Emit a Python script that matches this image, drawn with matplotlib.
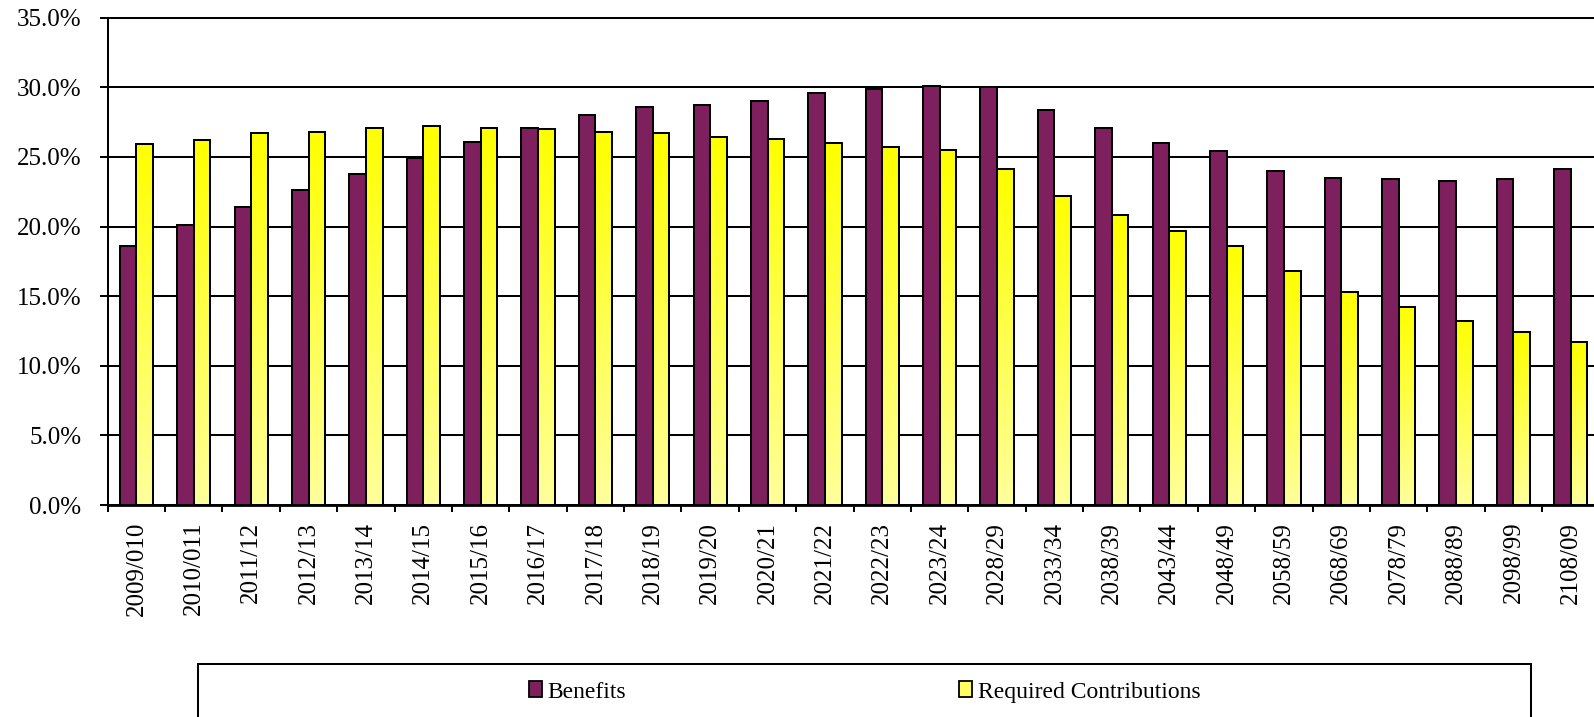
import numpy as np
import matplotlib
matplotlib.use("Agg")
import matplotlib.pyplot as plt
from matplotlib.colors import LinearSegmentedColormap
from matplotlib.patches import Patch, Rectangle
from matplotlib.ticker import FuncFormatter, FixedLocator

# ---- data ----
labels = ['2009/010', '2010/011', '2011/12', '2012/13', '2013/14', '2014/15',
          '2015/16', '2016/17', '2017/18', '2018/19', '2019/20', '2020/21',
          '2021/22', '2022/23', '2023/24', '2028/29', '2033/34', '2038/39',
          '2043/44', '2048/49', '2058/59', '2068/69', '2078/79', '2088/89',
          '2098/99', '2108/09']
benefits = [18.6, 20.1, 21.4, 22.6, 23.8, 24.9, 26.1, 27.1, 28.0, 28.6, 28.7,
            29.0, 29.6, 29.9, 30.1, 30.0, 28.4, 27.1, 26.0, 25.4, 24.0, 23.5,
            23.4, 23.3, 23.4, 24.1]
contributions = [25.9, 26.2, 26.7, 26.8, 27.1, 27.2, 27.1, 27.0, 26.8, 26.7,
                 26.4, 26.3, 26.0, 25.7, 25.5, 24.1, 22.2, 20.8, 19.7, 18.6,
                 16.8, 15.3, 14.2, 13.2, 12.4, 11.7]
series_names = ['Benefits', 'Required Contributions']
yticks = [0, 5, 10, 15, 20, 25, 30, 35]

# ---- style ----
W, H = 1594, 717
plt.rcParams['font.family'] = ['Liberation Serif', 'DejaVu Serif']
purple = '#7E1F5E'
yellow_cmap = LinearSegmentedColormap.from_list('yel', ['#FFFF9C', '#FFFF00'])

fig = plt.figure(figsize=(W / 100, H / 100), dpi=100)
left, right = 107.7, 1599.5
bottom, top = 505.0, 17.7
ax = fig.add_axes([left / W, 1 - bottom / H, (right - left) / W, (bottom - top) / H])

x = np.arange(len(labels))
bw = 0.29
lw = 1.45
b1 = ax.bar(x - bw / 2, benefits, bw, color=purple, edgecolor='black', linewidth=lw, zorder=3)
b2 = ax.bar(x + bw / 2, contributions, bw, facecolor='none', edgecolor='black', linewidth=lw, zorder=3)

grad = np.linspace(0, 1, 256).reshape(-1, 1)
for bar in b2:
    x0, w, h = bar.get_x(), bar.get_width(), bar.get_height()
    im = ax.imshow(grad, cmap=yellow_cmap, extent=[x0, x0 + w, 0, h], origin='lower',
                   aspect='auto', zorder=2.9, interpolation='bilinear')
    im.set_clip_path(bar)

ax.set_xlim(-0.5, len(labels) - 0.5)
ax.set_ylim(0, 35)
ax.set_aspect('auto')

# y axis
ax.set_yticks(yticks)
ax.yaxis.set_major_formatter(FuncFormatter(lambda v, p: f'{v:.1f}%'))
ax.tick_params(axis='y', direction='out', length=5.5, width=lw, pad=13.5, labelsize=18,
               colors='black')
ax.yaxis.grid(True, color='black', linewidth=lw, zorder=0)
ax.set_axisbelow(True)

# x axis: ticks at category boundaries, labels at centers
ax.xaxis.set_major_locator(FixedLocator(np.arange(len(labels) + 1) - 0.5))
ax.xaxis.set_minor_locator(FixedLocator(x))
ax.set_xticklabels([], minor=False)
ax.set_xticklabels(labels, minor=True, rotation=90, fontsize=18)
ax.tick_params(axis='x', which='major', direction='out', length=5, width=lw)
ax.tick_params(axis='x', which='minor', length=0, pad=12)

for s in ['left', 'bottom', 'top']:
    ax.spines[s].set_linewidth(lw)
    ax.spines[s].set_color('black')
ax.spines['bottom'].set_linewidth(2.0)
ax.spines['right'].set_visible(False)

# legend box (extends below the figure)
fig.add_artist(Rectangle((198 / W, -0.2), (1531 - 198) / W, 0.2 + (H - 664) / H,
                         transform=fig.transFigure, fill=False, edgecolor='black',
                         linewidth=lw))
handles = [Patch(facecolor=purple, edgecolor='black', linewidth=1.3),
           Patch(facecolor='#FFFF60', edgecolor='black', linewidth=1.3)]
fig.legend(handles, series_names, ncol=2, loc='center left',
           bbox_to_anchor=(529 / W, 1 - 692 / H), frameon=False, fontsize=17,
           handlelength=0.55, handleheight=0.64, handletextpad=0.24,
           columnspacing=14.1, borderpad=0, borderaxespad=0)

fig.savefig('out.png', dpi=100)
